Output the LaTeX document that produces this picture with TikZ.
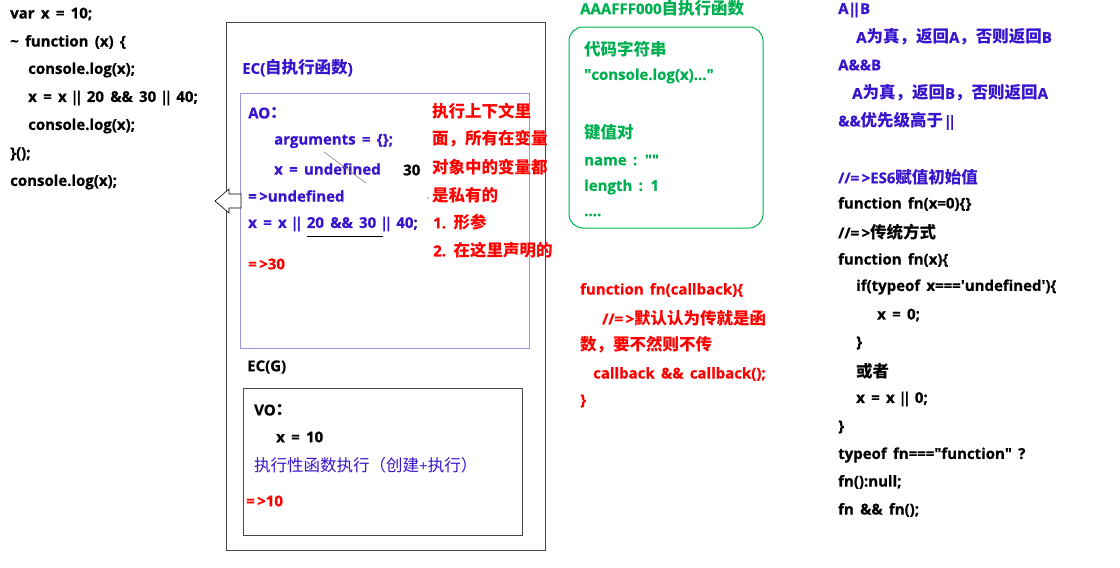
\documentclass[tikz,border=0pt]{standalone}
\usepackage{fontspec}
\setmainfont{Open Sans}[BoldFeatures={FakeBold=0.6}]
\newfontfamily\zhf{Noto Sans CJK SC}[Scale=1.1]
\newcommand{\zh}[1]{{\zhf #1}}
\newcommand{\orr}{\kern-2.5pt|\kern-4pt|\kern-2.5pt}
\newcommand{\codefont}{\bfseries\fontsize{15}{18}\selectfont\spaceskip 6.3pt\relax}
\definecolor{bl}{RGB}{55,20,205}
\definecolor{rd}{RGB}{255,0,0}
\definecolor{gr}{RGB}{0,176,80}
\definecolor{lav}{RGB}{150,150,225}
\definecolor{dg}{RGB}{70,70,70}
\begin{document}
\begin{tikzpicture}[x=1pt,y=-1pt,
  t/.style={anchor=west,inner sep=0pt,font=\codefont},
  bt/.style={t,text=bl},
  rt/.style={t,text=rd},
  gt/.style={t,text=gr}]
\useasboundingbox[fill=white] (0,0) rectangle (1120,568);
% left code
\node[t] (c1) at (10,14) {var x = 10;};
\node[t] (c2) at (10,42) {\textasciitilde{} function (x) \{};
\node[t] (c3) at (28,70) {console.log(x);};
\node[t] (c4) at (28,98) {x = x \orr{} 20 \&\& 30 \orr{} 40;};
\node[t] (c5) at (28,126) {console.log(x);};
\node[t] (c6) at (10,154) {\}();};
\node[t] (c7) at (10,182) {console.log(x);};
% outer box
\draw[dg,line width=0.9pt] (226,22) rectangle (545,550);
\node[bt] (ec) at (242,68) {EC(\zh{自执行函数})};
\draw[lav,line width=1pt] (240,93) rectangle (529,348);
\node[bt] (ao) at (248,113) {AO\zh{：}};
\node[bt] (arg) at (274,141) {arguments = \{\};};
\node[bt] (xu) at (274,169) {x = undefined};
\node[t] (n30) at (403,170) {30};
\node[bt] (ud) at (248,196) {=\,>undefined};
\node[bt] (xx) at (248,224) {x = x \orr{} 20 \&\& 30 \orr{} 40;};
\node[rt] (r30) at (248,264) {=\,>30};
\draw[gray,line width=0.6pt] (324,152) -- (366,183);
\draw[black,line width=0.6pt] (307,236) -- (383,236);
\fill[black] (428,198) circle (0.7);
% red notes
\node[rt] (m1) at (432,111) {\zh{执行上下文里}};
\node[rt] (m2) at (432,139) {\zh{面，所有在变量}};
\node[rt] (m3) at (432,167) {\zh{对象中的变量都}};
\node[rt] (m4) at (432,195) {\zh{是私有的}};
\node[rt] (m5) at (433,222) {1. \zh{形参}};
\node[rt] (m6) at (433,250) {2. \zh{在这里声明的}};
% block arrow
\draw[black,fill=white,line width=0.6pt] (241,194) -- (229,194) -- (229,189) -- (215,201) -- (229,213) -- (229,208) -- (241,208) -- cycle;
% EC(G)
\node[t] (ecg) at (247,367) {EC(G)};
\draw[dg,line width=0.9pt] (243,388) rectangle (522,535);
\node[t] (vo) at (254,410) {VO\zh{：}};
\node[t] (x10) at (276,437) {x = 10};
\node[bt,font=\fontsize{15}{18}\selectfont] (zx) at (254,465) {\zh{执行性函数执行（创建}+\zh{执行）}};
\node[rt] (r10) at (246,501) {=\,>10};
% green
\node[gt] (gh) at (580,8) {AAAFFF000\zh{自执行函数}};
\draw[gr,line width=1pt,rounded corners=14pt] (569,27) rectangle (763,228);
\node[gt] (g1) at (584,49) {\zh{代码字符串}};
\node[gt] (g2) at (584,76) {\textquotedbl console.log(x)...\textquotedbl};
\node[gt] (g3) at (584,132) {\zh{键值对}};
\node[gt] (g4) at (584,160) {name : \textquotedbl\textquotedbl};
\node[gt] (g5) at (584,187) {length : 1};
\node[gt] (g6) at (584,215) {....};
% red function
\node[rt] (f1) at (580,290) {function fn(callback)\{};
\node[rt] (f2) at (602,318) {//=\,>\zh{默认认为传就是函}};
\node[rt] (f3) at (580,345) {\zh{数，要不然则不传}};
\node[rt] (f4) at (593,374) {callback \&\& callback();};
\node[rt] (f5) at (580,401) {\}};
% right column
\node[bt] (a1) at (838,10) {A\kern2pt\orr\kern2pt B};
\node[bt] (a2) at (856,37) {A\zh{为真，返回}A\zh{，否则返回}B};
\node[bt] (a3) at (838,65) {A\&\&B};
\node[bt] (a4) at (852,93) {A\zh{为真，返回}B\zh{，否则返回}A};
\node[bt] (a5) at (838,121) {\&\&\zh{优先级高于}\kern3pt\orr};
\node[bt] (a6) at (838,177) {//=\,>ES6\zh{赋值初始值}};
\node[t] (a7) at (838,204) {function fn(x=0)\{\}};
\node[t] (a8) at (838,232) {//=\,>\zh{传统方式}};
\node[t] (a9) at (838,260) {function fn(x)\{};
\node[t] (a10) at (856,287) {if(typeof x===\textquotesingle undefined\textquotesingle)\{};
\node[t] (a11) at (877,315) {x = 0;};
\node[t] (a12) at (856,343) {\}};
\node[t] (a13) at (856,371) {\zh{或者}};
\node[t] (a14) at (856,399) {x = x \orr{} 0;};
\node[t] (a15) at (838,427) {\}};
\node[t] (a16) at (838,455) {typeof fn===\textquotedbl function\textquotedbl{} ?};
\node[t] (a17) at (838,482) {fn():null;};
\node[t] (a18) at (838,510) {fn \&\& fn();};
\end{tikzpicture}
\end{document}
